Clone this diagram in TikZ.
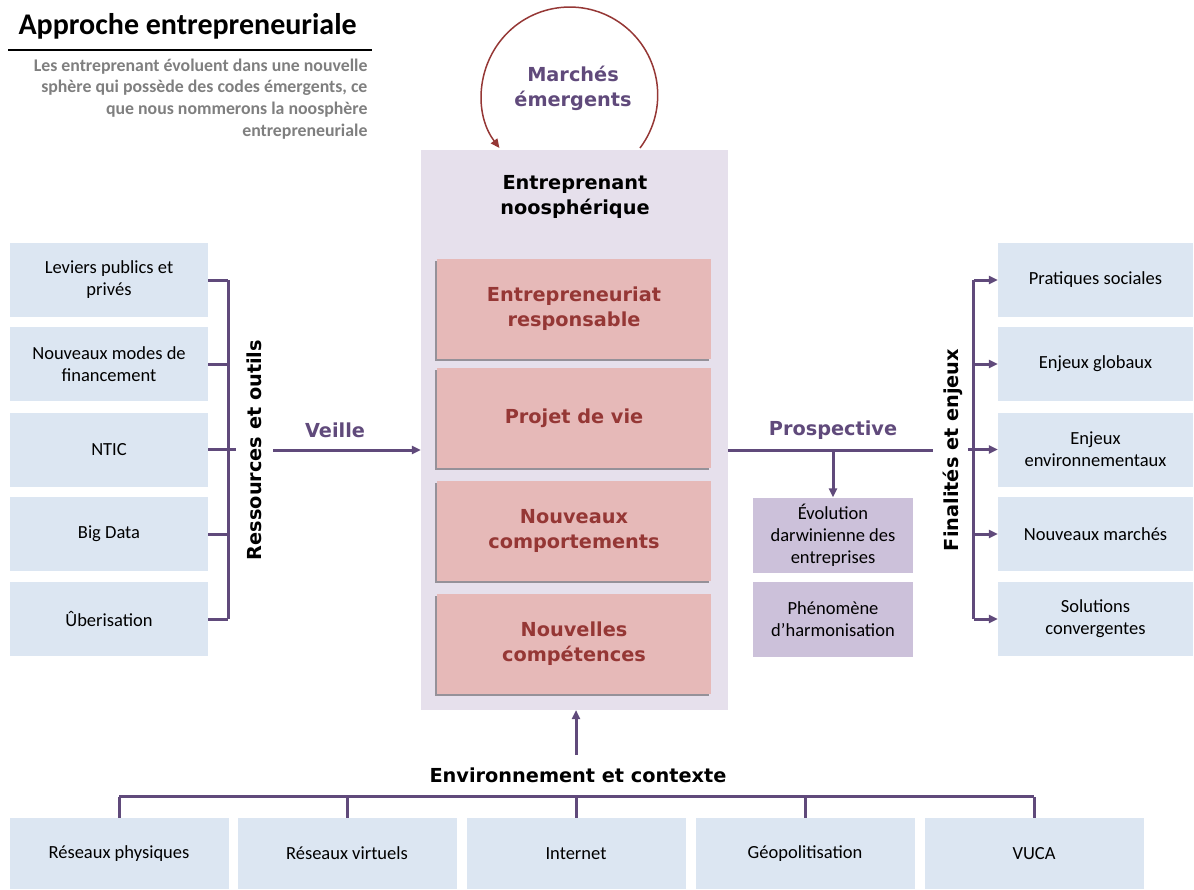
\documentclass[tikz,border=0pt]{standalone}
\usepackage{fontspec}
\setmainfont{Carlito}
\newfontfamily\headfont{DejaVu Sans}
\usetikzlibrary{positioning,shadows,arrows.meta}
\definecolor{linepurple}{RGB}{96,74,123}
\definecolor{boxblue}{RGB}{220,230,242}
\definecolor{corelavender}{RGB}{230,224,236}
\definecolor{rosebox}{RGB}{230,185,184}
\definecolor{darkred}{RGB}{149,55,53}
\definecolor{mauvebox}{RGB}{204,193,218}
\definecolor{textgrey}{RGB}{127,127,127}

\begin{document}
\begin{tikzpicture}[
    x=1pt, y=-1pt,
    every node/.style={align=center},
    sidebox/.style={rectangle, minimum width=198pt, minimum height=74pt, inner sep=2pt, fill=boxblue, font=\fontsize{18.5}{22}\selectfont},
    basebox/.style={rectangle, minimum width=219pt, minimum height=71pt, inner sep=2pt, fill=boxblue, font=\fontsize{18.5}{22}\selectfont},
    corebox/.style={rectangle, minimum width=274pt, minimum height=100pt, fill=rosebox, drop shadow={shadow xshift=-2pt, shadow yshift=-2pt, fill=black, opacity=0.35}, text=darkred, font=\headfont\bfseries\fontsize{19.3}{25}\selectfont},
    trendbox/.style={rectangle, minimum width=160pt, minimum height=75pt, inner sep=2pt, fill=mauvebox, font=\fontsize{18.5}{22}\selectfont},
    heading/.style={font=\headfont\bfseries\fontsize{19.3}{25}\selectfont, text=linepurple},
    link/.style={draw=linepurple, line width=3pt},
    flow/.style={link, -{Triangle[length=9pt,width=8pt]}}
]
\useasboundingbox (0,0) rectangle (1194,889);

% Title block
\node[anchor=west, font=\bfseries\fontsize{30}{34}\selectfont] (title) at (15,26) {Approche entrepreneuriale};
\draw[line width=2pt] (8,50) -- (372,50);
\node[anchor=north east, align=right, text=textgrey, font=\bfseries\fontsize{17.8}{21.7}\selectfont] (intro) at (371,55)
    {Les entreprenant évoluent dans une nouvelle\\sphère qui possède des codes émergents, ce\\que nous nommerons la noosphère\\entrepreneuriale};

% Central block
\node[rectangle, minimum width=307pt, minimum height=560pt, fill=corelavender] (core) at (574.5,430) {};
\node[font=\headfont\bfseries\fontsize{19.3}{25}\selectfont] (coretitle) at (575,197) {Entreprenant\\noosphérique};
\foreach \n/\y/\txt in {1/309/{Entrepreneuriat\\responsable}, 2/418/{Projet de vie}, 3/530.5/{Nouveaux\\comportements}, 4/644/{Nouvelles\\compétences}}
    \node[corebox] (trait\n) at (574,\y) {\txt};

% Emerging markets loop
\node[heading] (markets) at (573,88) {Marchés\\émergents};
\coordinate (loopstart) at (640,148);
\draw[draw=darkred, line width=1.5pt, -{Triangle[length=9pt,width=8pt]}] (loopstart) arc[start angle=-37, end angle=217, radius=88pt];

% Resources (left)
\foreach \n/\y/\txt in {1/280/{Leviers publics et\\privés}, 2/364/{Nouveaux modes de\\financement}, 3/449.5/NTIC, 4/534/Big Data, 5/619/Ûberisation}
    \node[sidebox] (res\n) at (109,\y) {\txt};
\foreach \n in {1,2,4,5}
    \draw[link] (res\n.east) -- ++(20,0);
\draw[link] (res3.east) -- ++(28,0);
\draw[link] ([xshift=20pt]res1.east) -- ([xshift=20pt]res5.east);
\node[font=\headfont\bfseries\fontsize{19.3}{25}\selectfont, rotate=90] (restitle) at (254,450) {Ressources et outils};
\coordinate (watch) at (273,450);
\draw[flow] (watch) -- (watch -| core.west);
\node[heading] (watchlabel) at (335,430) {Veille};

% Foresight (right)
\coordinate (fore) at (933,450);
\draw[link] (fore -| core.east) -- (fore);
\node[heading] (forelabel) at (833,430) {Prospective};
\node[trendbox] (trend1) at (833,535) {Évolution\\darwinienne des\\entreprises};
\node[trendbox] (trend2) at (833,619.5) {Phénomène\\d’harmonisation};
\draw[flow] (833,450) -- (trend1.north);

% Goals (right)
\foreach \n/\y/\txt in {1/280/{Pratiques sociales}, 2/364/{Enjeux globaux}, 3/449.5/{Enjeux\\environnementaux}, 4/534/{Nouveaux marchés}, 5/619/{Solutions\\convergentes}}
    \node[sidebox, minimum width=195pt] (goal\n) at (1095.5,\y) {\txt};
\foreach \n in {1,2,4,5}
    \draw[flow] ([xshift=-24pt]goal\n.west) -- (goal\n.west);
\draw[flow] ([xshift=-30pt]goal3.west) -- (goal3.west);
\draw[link] ([xshift=-24pt]goal1.west) -- ([xshift=-24pt]goal5.west);
\node[font=\headfont\bfseries\fontsize{19.3}{25}\selectfont, rotate=90] (goaltitle) at (953,450) {Finalités et enjeux};

% Environment (bottom)
\foreach \n/\x/\txt in {1/119/{Réseaux physiques}, 2/347/{Réseaux virtuels}, 3/576/Internet, 4/805/Géopolitisation, 5/1034/VUCA}
    \node[basebox] (env\n) at (\x,853.5) {\txt};
\foreach \n in {1,...,5}
    \draw[link] (env\n.north) -- ++(0,-21);
\draw[link] ([yshift=21pt]env1.north) -- ([yshift=21pt]env5.north);
\node[font=\headfont\bfseries\fontsize{19.3}{25}\selectfont] (envtitle) at (578,775) {Environnement et contexte};
\draw[flow] (576,755) -- (576,710);

\end{tikzpicture}
\end{document}
